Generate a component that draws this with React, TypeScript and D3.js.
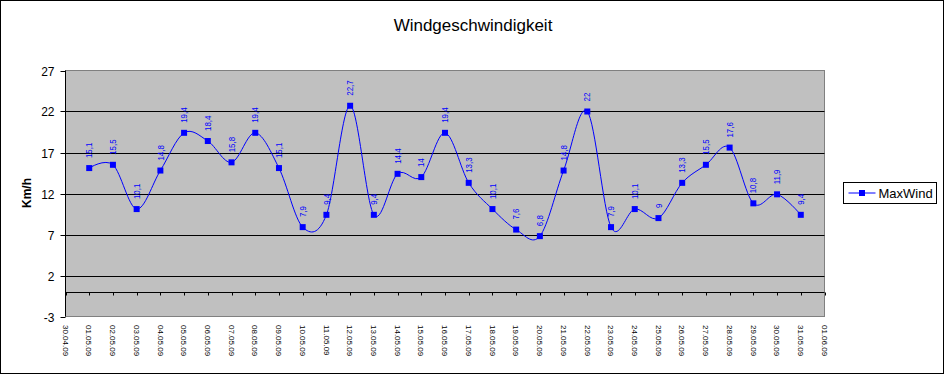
import * as d3 from 'd3';

// Excel-artiges Liniendiagramm: D3 rechnet Skalen und Kurve, React zeichnet das SVG.

const WIDTH = 946;
const HEIGHT = 375;
const PLOT = { left: 65.5, right: 824.5, top: 70.5, bottom: 316.5 };

const tickLabels = [
  '30.04.09', '01.05.09', '02.05.09', '03.05.09', '04.05.09', '05.05.09', '06.05.09',
  '07.05.09', '08.05.09', '09.05.09', '10.05.09', '11.05.09', '12.05.09', '13.05.09',
  '14.05.09', '15.05.09', '16.05.09', '17.05.09', '18.05.09', '19.05.09', '20.05.09',
  '21.05.09', '22.05.09', '23.05.09', '24.05.09', '25.05.09', '26.05.09', '27.05.09',
  '28.05.09', '29.05.09', '30.05.09', '31.05.09', '01.06.09',
];

const days = tickLabels.slice(1, 32);

const maxWind = [
  15.1, 15.5, 10.1, 14.8, 19.4, 18.4, 15.8, 19.4, 15.1, 7.9, 9.4, 22.7, 9.4, 14.4, 14, 19.4,
  13.3, 10.1, 7.6, 6.8, 14.8, 22, 7.9, 10.1, 9, 13.3, 15.5, 17.6, 10.8, 11.9, 9.4,
];

const yTicks = [-3, 2, 7, 12, 17, 22, 27];
const gridValues = [2, 7, 12, 17, 22];

const FONT = '"Liberation Sans", Arial, sans-serif';
const BLUE = '#0000ff';

const de = d3.formatLocale({ decimal: ',', thousands: '.', grouping: [3], currency: ['', ' €'] });
const fmt = de.format('~r');

export default function App() {
  const x = d3.scalePoint<string>().domain(tickLabels).range([PLOT.left, PLOT.right]);
  const y = d3.scaleLinear().domain([-3, 27]).range([PLOT.bottom, PLOT.top]);

  const points = days.map((d, i) => ({ d, v: maxWind[i] }));
  const linePath = d3
    .line<{ d: string; v: number }>()
    .x((p) => x(p.d)!)
    .y((p) => y(p.v))
    .curve(d3.curveCatmullRom.alpha(0))(points)!;

  const y0 = Math.round(y(0)) + 0.5;

  return (
    <div style={{ position: 'fixed', left: 0, top: 0 }}>
      <svg width={WIDTH} height={HEIGHT} style={{ display: 'block' }} fontFamily={FONT}>
        <rect x={0.5} y={0.5} width={943} height={373} fill="#fff" stroke="#000" />

        <text x={473} y={31} textAnchor="middle" fontSize={17}>
          Windgeschwindigkeit
        </text>

        {/* Zeichenfläche */}
        <rect
          x={PLOT.left}
          y={PLOT.top}
          width={PLOT.right - PLOT.left}
          height={PLOT.bottom - PLOT.top}
          fill="#c0c0c0"
          stroke="#808080"
        />

        {gridValues.map((v) => (
          <line
            key={v}
            x1={PLOT.left}
            x2={PLOT.right}
            y1={Math.round(y(v)) + 0.5}
            y2={Math.round(y(v)) + 0.5}
            stroke="#000"
          />
        ))}

        {/* x-Achse bei 0 */}
        <line x1={PLOT.left} x2={PLOT.right} y1={y0} y2={y0} stroke="#000" />
        {tickLabels.map((t) => (
          <line
            key={t}
            x1={Math.round(x(t)!) + 0.5}
            x2={Math.round(x(t)!) + 0.5}
            y1={y0}
            y2={y0 + 3}
            stroke="#000"
          />
        ))}
        {tickLabels.map((t) => (
          <text
            key={t}
            transform={`translate(${x(t)},325) rotate(90)`}
            fontSize={8}
            dy="0.35em"
          >
            {t}
          </text>
        ))}

        {/* y-Achse */}
        <line x1={PLOT.left} x2={PLOT.left} y1={PLOT.top} y2={PLOT.bottom} stroke="#000" />
        {yTicks.map((v) => (
          <g key={v} transform={`translate(0,${Math.round(y(v)) + 0.5})`}>
            <line x1={PLOT.left - 5} x2={PLOT.left} stroke="#000" />
            <text x={PLOT.left - 11} dy="0.35em" textAnchor="end" fontSize={12}>
              {v}
            </text>
          </g>
        ))}
        <text
          transform="translate(27,193) rotate(-90)"
          textAnchor="middle"
          dy="0.35em"
          fontSize={12}
          fontWeight="bold"
        >
          Km/h
        </text>

        {/* Serie */}
        <path d={linePath} fill="none" stroke={BLUE} strokeWidth={1} />
        {points.map((p) => (
          <rect key={p.d} x={x(p.d)! - 3} y={y(p.v) - 3} width={6} height={6} fill={BLUE} />
        ))}
        {points.map((p) => (
          <text
            key={p.d}
            transform={`translate(${x(p.d)},${y(p.v) - 10}) rotate(-90) scale(0.88,1)`}
            fontSize={9}
            dy="0.35em"
            fill={BLUE}
          >
            {fmt(p.v)}
          </text>
        ))}

        {/* Legende */}
        <g transform="translate(843.5,182.5)">
          <rect width={93} height={21} fill="#fff" stroke="#000" />
          <line x1={5} x2={32} y1={10.5} y2={10.5} stroke={BLUE} />
          <rect x={15.5} y={7.5} width={6} height={6} fill={BLUE} />
          <text x={35} y={10.5} dy="0.35em" fontSize={13}>
            MaxWind
          </text>
        </g>
      </svg>
    </div>
  );
}
